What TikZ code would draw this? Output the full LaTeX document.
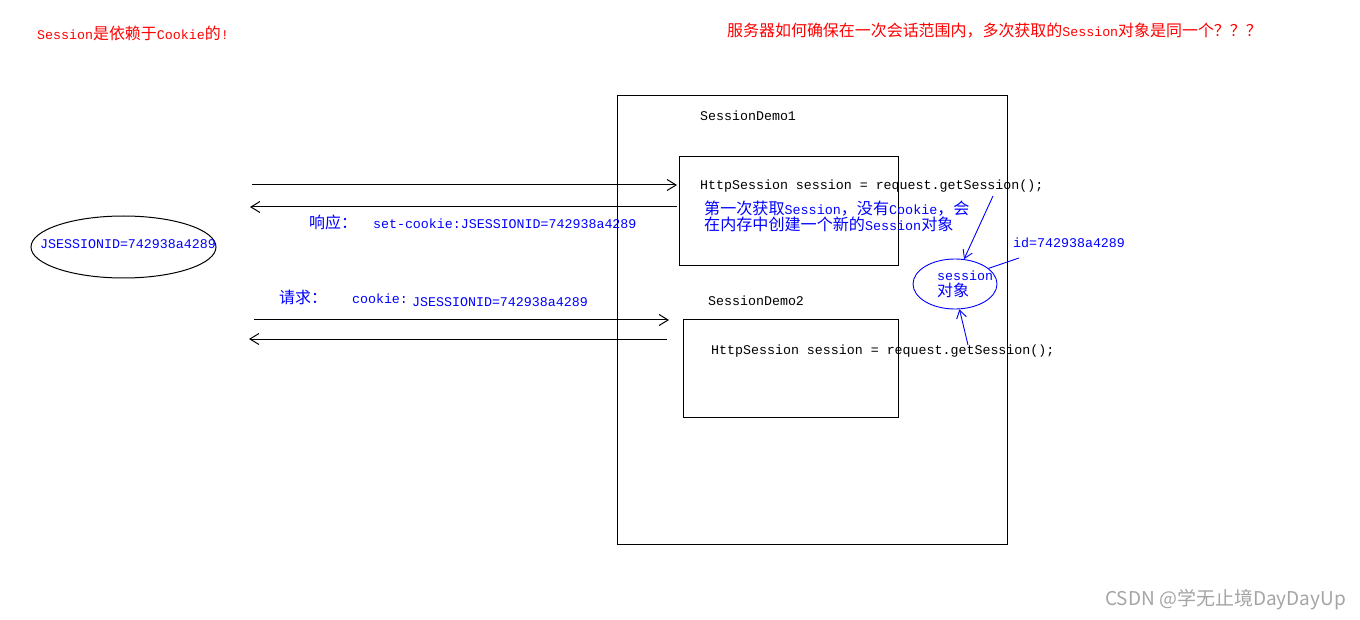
\documentclass[tikz,border=0pt]{standalone}
\usepackage{fontspec}
\setmainfont{Liberation Mono}
\newfontfamily\cjk[Scale=1.2]{Noto Sans CJK SC}
\newfontfamily\wmfont{Noto Sans CJK SC}
\usetikzlibrary{arrows.meta,positioning,shapes.geometric}
\definecolor{note}{RGB}{0,0,255}
\definecolor{warn}{RGB}{255,0,0}
\definecolor{wmgray}{RGB}{165,165,165}
\newcommand{\zh}[1]{{\cjk #1}}
\tikzset{
  txt/.style={inner sep=0pt,anchor=west,font=\fontsize{13.3}{16}\selectfont},
  frame/.style={draw,line width=1pt,inner sep=0pt},
  msg/.style={line width=1pt,-{Straight Barb[length=9pt,width=11pt]}},
  ptr/.style={note,line width=0.9pt,-{Straight Barb[length=8pt,width=10pt]}}
}

\begin{document}
\begin{tikzpicture}[x=1pt,y=-1pt]
\fill[white] (0,0) rectangle (1360,620);
\useasboundingbox (0,0) rectangle (1360,620);
% headings
\node[txt,warn] (head1) at (37,33) {Session\zh{是依赖于}Cookie\zh{的}!};
\node[txt,warn] (head2) at (727,31) {\zh{服务器如何确保在一次会话范围内，多次获取的}Session\zh{对象是同一个？？？}};
% server side
\node[frame,minimum width=390,minimum height=448] (server) at (812,320) {};
\node[frame,minimum width=219,minimum height=109] (demo1) at (788.5,211.5) {};
\node[frame,minimum width=215,minimum height=97] (demo2) at (790.5,368.5) {};
\node[txt] (name1) at (700,116) {SessionDemo1};
\node[txt] (name2) at (708,301) {SessionDemo2};
\node[txt] (code1) at (700,186) {HttpSession session = request.getSession();};
\node[txt] (code2) at (711,351) {HttpSession session = request.getSession();};
\node[txt,note,anchor=north west,align=left,font=\fontsize{13.4}{16}\selectfont] (first) at (704,201)
  {\zh{第一次获取}Session\zh{，没有}Cookie\zh{，会}\\\zh{在内存中创建一个新的}Session\zh{对象}};
% session object
\node[draw=note,line width=0.9pt,ellipse,minimum width=84,minimum height=50,inner sep=0pt] (sobj) at (955,284) {};
\node[txt,note,align=left] (sobjtxt) at (937,284) {session\\\zh{对象}};
\node[txt,note] (idtag) at (1013,243) {id=742938a4289};
\coordinate (from1) at (993,196);
\coordinate (from2) at (968,345);
\coordinate (idfoot) at (1019,258);
\draw[ptr] (from1) -- (sobj.70);
\draw[ptr] (from2) -- (sobj.-80);
\draw[note,line width=0.9pt] (idfoot) -- (sobj.25);
% browser side
\node[draw,line width=1pt,ellipse,minimum width=185,minimum height=62,inner sep=0pt] (browser) at (123.5,247) {};
\node[txt,note] (jsid) at (40,244) {JSESSIONID=742938a4289};
\coordinate (cli1) at (252,185);
\coordinate (cli2) at (250,207);
\coordinate (cli3) at (254,320);
\coordinate (cli4) at (249,339);
\coordinate (srv1) at (677,185);
\coordinate (srv2) at (677,207);
\coordinate (srv3) at (669,320);
\coordinate (srv4) at (667,339);
\draw[msg] (cli1) -- (srv1);
\draw[msg] (srv2) -- (cli2);
\draw[msg] (cli3) -- (srv3);
\draw[msg] (srv4) -- (cli4);
\node[txt,note] (resp) at (309,222) {\zh{响应：}\hspace{16pt}set-cookie:JSESSIONID=742938a4289};
\node[txt,note] (reqlbl) at (279,297) {\zh{请求：}\hspace{25pt}cookie:};
\node[txt,note] (reqid) at (412,302) {JSESSIONID=742938a4289};
% watermark
\node[inner sep=0pt,anchor=west,text=wmgray,font=\wmfont\fontsize{19}{20}\selectfont] (wm) at (1105,600) {CSDN @学无止境DayDayUp};
\end{tikzpicture}
\end{document}
